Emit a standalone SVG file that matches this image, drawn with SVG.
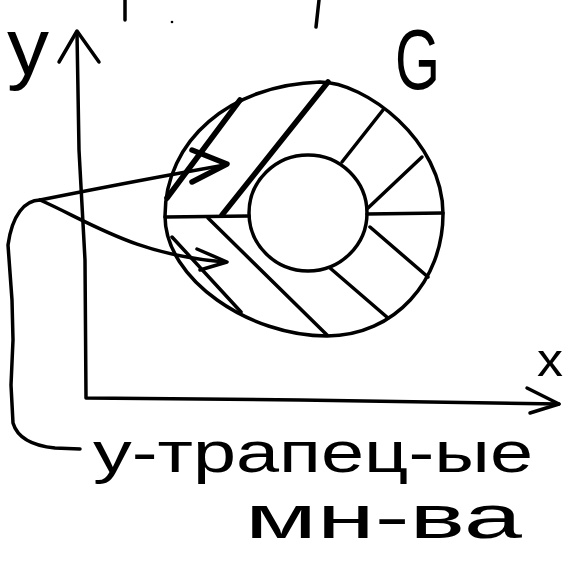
<svg xmlns="http://www.w3.org/2000/svg" width="569" height="563" viewBox="0 0 569 563">
<style>
.ln{fill:none;stroke:#000;stroke-width:3.5;stroke-linecap:round;stroke-linejoin:round}
.thick{stroke-width:5.5}
.lbl{font-family:"Liberation Sans","DejaVu Sans",sans-serif;fill:#000}
</style>
<rect width="569" height="563" fill="#fff"/>
<g id="top-marks">
<path class="ln" d="M125,0 L125,20"/>
<path class="ln" d="M319,0 L316,27"/>
<circle cx="172" cy="22" r="1.3" fill="#000"/>
</g>
<g id="axes">
<path class="ln" d="M77,33 L79,150 L85,260 L86,398 L300,400 L559,404"/>
<path class="ln" d="M59,62 L77,31 L99,62"/>
<path class="ln" d="M527,388 L559,404 L530,413"/>
</g>
<g id="region-G">
<path class="ln" d="M165,216 C165,140 230,85 320,82 C365,82 443,140 443,214 C443,280 395,336 327,336 C250,336 165,280 165,216 Z"/>
<ellipse class="ln" cx="308" cy="213" rx="59" ry="58"/>
<path class="ln" d="M165,217 L249,216"/>
<path class="ln" d="M367,214 L443,213"/>
<path class="ln thick" d="M240,100 L167,198"/>
<path class="ln thick" d="M328,82 L222,215"/>
<path class="ln" d="M383,110 L342,162"/>
<path class="ln" d="M422,157 L368,208"/>
<path class="ln" d="M370,227 L428,277"/>
<path class="ln" d="M330,268 L388,318"/>
<path class="ln" d="M208,218 L327,335"/>
<path class="ln" d="M172,237 L241,312"/>
</g>
<g id="connectors">
<path class="ln" d="M40,200 C90,190 140,180 225,165"/>
<path class="ln thick" d="M192,150 L227,164 L192,182"/>
<path class="ln" d="M40,200 C90,222 135,255 225,262"/>
<path class="ln" d="M197,249 L227,262 L200,270"/>
<path class="ln" d="M40,200 C25,200 12,215 8,245 L12,300 L13,340 L11,385 L13,423 C18,440 35,446 55,448 L80,449"/>
</g>
<g id="labels">
<text class="lbl" x="7" y="74" font-size="80" textLength="42" lengthAdjust="spacingAndGlyphs">y</text>
<text class="lbl" x="395" y="89" font-size="86" textLength="45" lengthAdjust="spacingAndGlyphs">G</text>
<text class="lbl" x="537" y="376" font-size="46" textLength="26" lengthAdjust="spacingAndGlyphs">x</text>
<text class="lbl" x="93" y="472" font-size="58" textLength="440" lengthAdjust="spacingAndGlyphs">у-трапец-ые</text>
<text class="lbl" x="245" y="538" font-size="62" textLength="277" lengthAdjust="spacingAndGlyphs">мн-ва</text>
</g>
</svg>
